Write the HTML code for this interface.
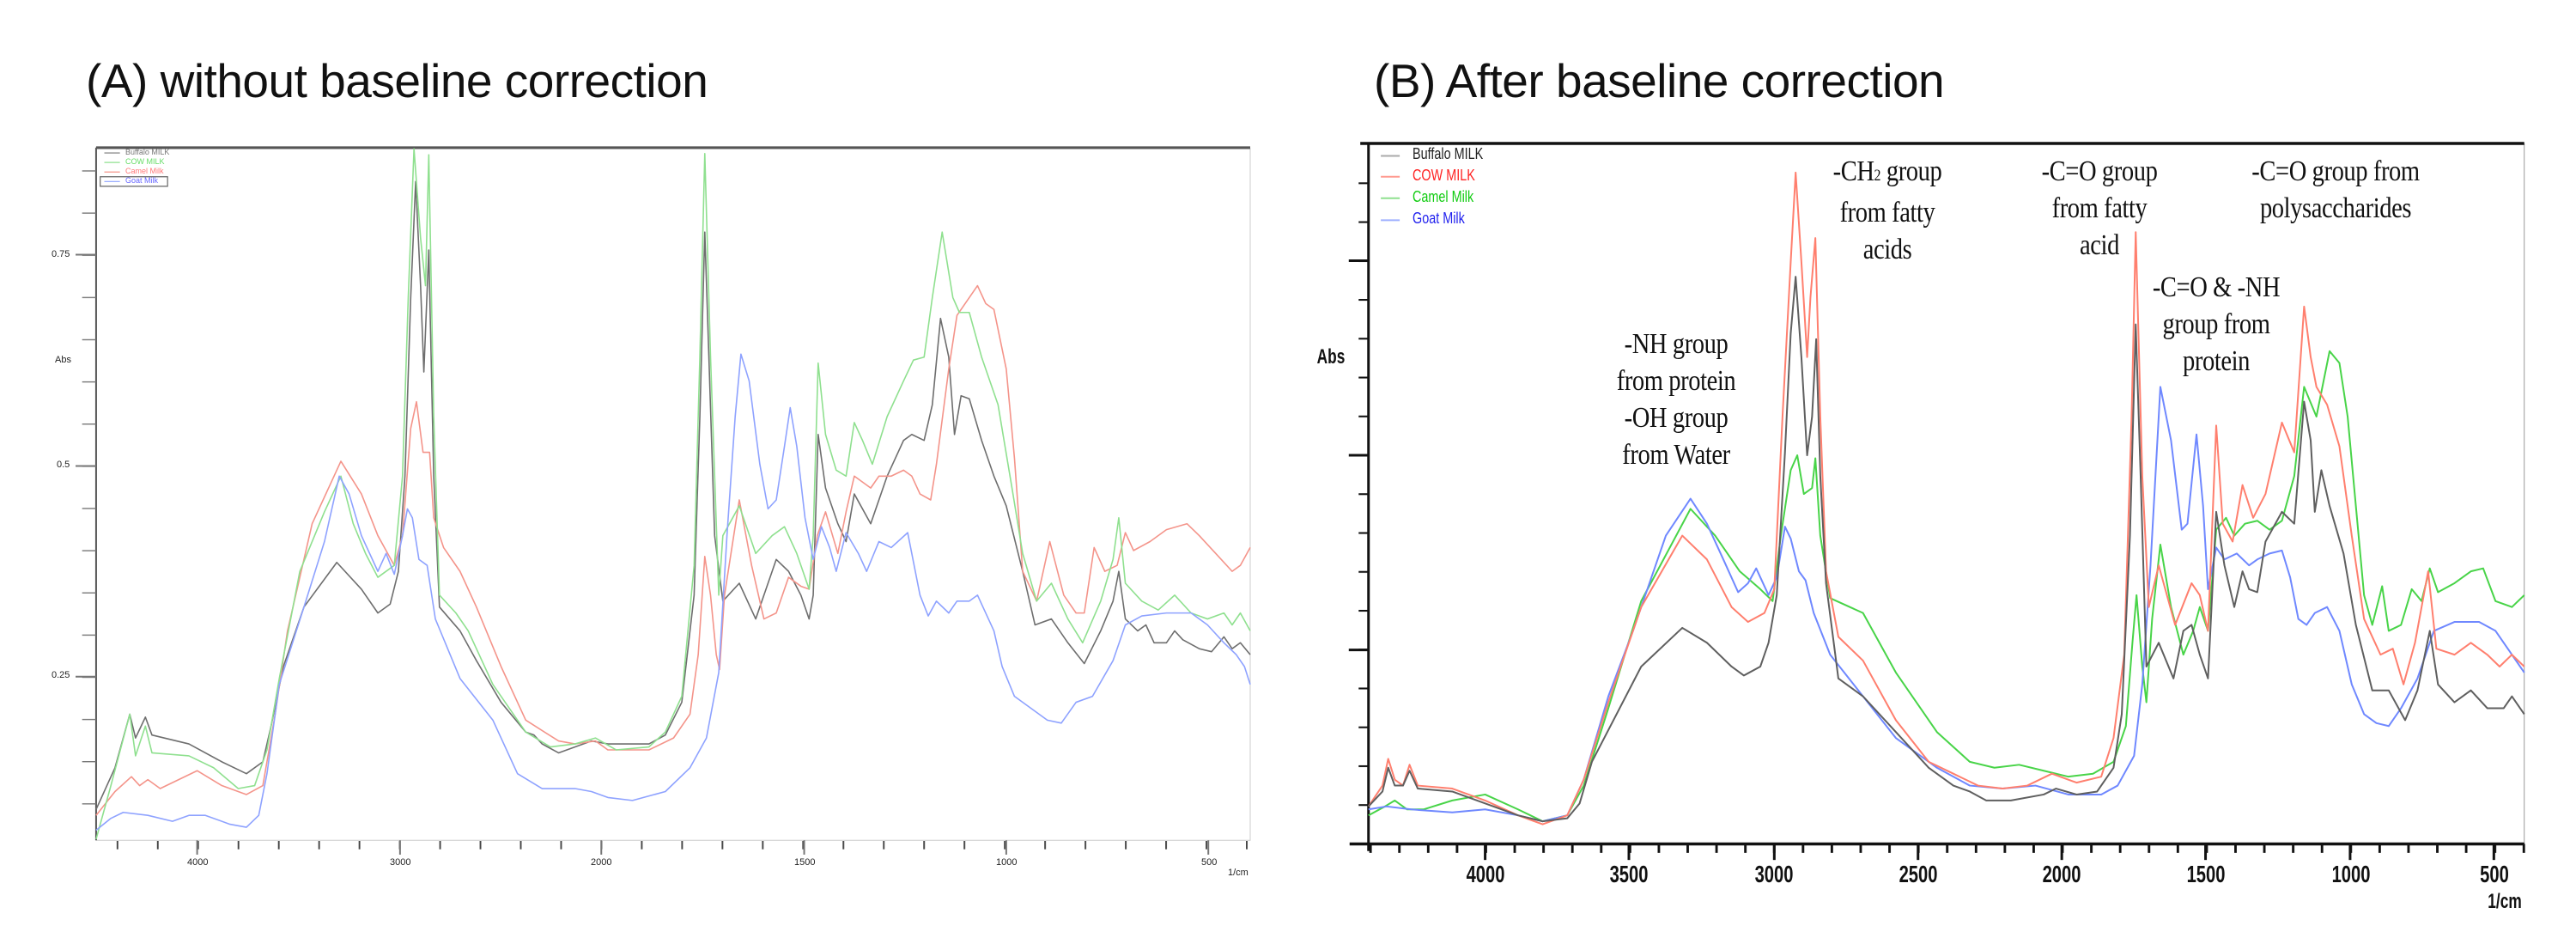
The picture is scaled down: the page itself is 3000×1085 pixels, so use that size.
<!DOCTYPE html>
<html><head><meta charset="utf-8"><style>
html,body{margin:0;padding:0;background:#fff;}
body{width:3000px;height:1085px;position:relative;overflow:hidden;font-family:"Liberation Sans",sans-serif;}
.t{position:absolute;white-space:nowrap;}
.title{font-size:55px;color:#111;top:62px;letter-spacing:-0.5px;}
.al{font-size:11px;color:#222;}
.bl{font-size:28px;font-weight:bold;color:#111;transform:translateX(-50%) scaleX(0.72);}
.ann{font-family:"Liberation Serif",serif;font-size:34px;color:#111;text-align:center;line-height:43px;transform:translateX(-50%) scaleX(0.84);letter-spacing:-0.5px;}
.leg{font-size:18px;transform-origin:0 50%;transform:scaleX(0.8);}
svg{position:absolute;top:0;}
</style></head><body>

<div class="t title" style="left:100px;">(A) without baseline correction</div>
<div class="t title" style="left:1600px;">(B) After baseline correction</div>

<!-- Chart A -->
<svg style="left:0" width="1500" height="1085" viewBox="0 0 1568 1566" preserveAspectRatio="none">
<defs>
<pattern id="axt" patternUnits="userSpaceOnUse" x="142" y="0" width="49.1" height="1566"><rect x="0" y="1413" width="2" height="14" fill="#444"/></pattern>
<pattern id="ayt" patternUnits="userSpaceOnUse" x="0" y="1137" width="1568" height="70.9"><rect x="100" y="0" width="17" height="2" fill="#777"/></pattern>
</defs>
<rect x="117" y="250" width="1405" height="1162" fill="none" stroke="#ccc" stroke-width="1" vector-effect="non-scaling-stroke"/>
<line x1="117" y1="248" x2="1522" y2="248" stroke="#555" stroke-width="3" vector-effect="non-scaling-stroke"/>
<line x1="117" y1="248" x2="117" y2="1412" stroke="#555" stroke-width="2" vector-effect="non-scaling-stroke"/>
<rect x="117" y="1410" width="1405" height="26" fill="url(#axt)"/>
<rect x="96" y="260" width="21" height="1150" fill="url(#ayt)"/>
<g stroke="#777" stroke-width="2" vector-effect="non-scaling-stroke">
<line x1="240" y1="1412" x2="240" y2="1436" vector-effect="non-scaling-stroke"/><line x1="487" y1="1412" x2="487" y2="1436" vector-effect="non-scaling-stroke"/><line x1="732" y1="1412" x2="732" y2="1436" vector-effect="non-scaling-stroke"/><line x1="979" y1="1412" x2="979" y2="1436" vector-effect="non-scaling-stroke"/><line x1="1225" y1="1412" x2="1225" y2="1436" vector-effect="non-scaling-stroke"/><line x1="1471" y1="1412" x2="1471" y2="1436" vector-effect="non-scaling-stroke"/>
<line x1="92" y1="428" x2="117" y2="428" vector-effect="non-scaling-stroke"/><line x1="92" y1="783" x2="117" y2="783" vector-effect="non-scaling-stroke"/><line x1="92" y1="1137" x2="117" y2="1137" vector-effect="non-scaling-stroke"/>
</g>
<g fill="none" stroke-width="1.6" stroke-linejoin="round">
<polyline vector-effect="non-scaling-stroke" stroke="#6e6e6e" points="117,1360 140,1290 158,1200 165,1240 177,1205 185,1235 230,1250 270,1280 300,1300 320,1280 330,1220 345,1120 370,1020 410,945 440,990 460,1030 475,1015 485,960 493,800 500,500 506,305 512,480 516,625 522,420 528,800 535,1020 560,1060 580,1110 610,1180 640,1230 650,1235 660,1250 680,1265 720,1245 740,1250 790,1250 810,1235 830,1180 845,1000 852,700 858,390 863,600 870,900 880,1010 900,980 920,1040 945,940 960,960 975,1000 985,1040 990,1000 996,730 1005,820 1020,880 1030,910 1040,830 1060,880 1080,800 1100,740 1110,730 1125,740 1135,680 1145,535 1155,600 1162,730 1170,665 1180,670 1195,740 1210,800 1225,850 1245,960 1260,1050 1280,1040 1300,1080 1320,1115 1340,1060 1355,1010 1362,960 1370,1040 1385,1060 1395,1050 1405,1080 1420,1080 1430,1060 1440,1075 1460,1090 1475,1095 1490,1070 1500,1090 1510,1080 1522,1100"/>
<polyline vector-effect="non-scaling-stroke" stroke="#f4948a" points="117,1370 140,1330 160,1305 170,1320 180,1310 195,1325 240,1295 270,1320 300,1335 320,1320 335,1200 350,1060 380,880 415,775 440,830 460,900 480,950 490,900 500,720 507,675 515,760 523,760 528,870 540,920 560,960 580,1020 610,1120 640,1210 680,1245 700,1250 725,1245 740,1260 790,1260 820,1240 840,1200 850,1100 858,935 865,1000 872,1100 876,1125 882,1000 900,840 915,950 930,1040 945,1030 960,970 975,985 985,990 995,900 1005,860 1020,930 1030,860 1040,800 1060,820 1070,800 1085,800 1100,790 1110,800 1120,830 1133,840 1140,780 1155,620 1165,530 1180,500 1190,480 1200,510 1210,520 1225,620 1235,770 1245,960 1262,1010 1278,910 1295,1000 1310,1030 1320,1030 1332,920 1345,960 1360,950 1370,895 1380,925 1400,910 1420,890 1445,880 1460,900 1480,930 1500,960 1510,950 1522,920"/>
<polyline vector-effect="non-scaling-stroke" stroke="#8fe08f" points="117,1410 135,1320 158,1200 165,1270 177,1220 185,1265 230,1270 260,1290 290,1325 310,1320 325,1260 340,1140 365,960 395,860 415,800 430,880 445,930 460,970 480,950 490,800 497,500 504,250 512,400 518,480 522,260 528,700 535,1000 555,1030 570,1060 600,1150 640,1230 670,1255 700,1250 725,1240 750,1260 790,1255 810,1230 830,1170 845,950 852,600 858,258 865,600 875,1000 880,900 900,850 920,930 940,900 955,885 970,930 985,990 990,900 996,610 1005,730 1018,790 1030,800 1040,710 1050,740 1062,780 1080,700 1100,640 1112,605 1125,600 1135,500 1147,390 1160,500 1168,525 1180,525 1195,600 1215,680 1232,820 1245,930 1262,1010 1280,980 1300,1040 1318,1080 1340,1010 1355,940 1362,870 1370,980 1390,1010 1410,1025 1430,1000 1450,1030 1470,1040 1490,1030 1500,1050 1510,1030 1522,1060"/>
<polyline vector-effect="non-scaling-stroke" stroke="#8ea2ff" points="117,1395 135,1375 150,1365 180,1370 210,1380 230,1370 250,1370 280,1385 300,1390 315,1370 325,1300 340,1150 370,1020 395,910 413,800 425,830 440,900 460,960 470,930 480,965 490,900 496,855 502,870 510,940 520,950 530,1040 560,1140 600,1210 630,1300 660,1325 700,1325 720,1330 740,1340 770,1345 810,1330 840,1290 860,1240 875,1130 885,900 895,700 902,595 912,640 925,780 935,855 945,840 955,750 962,685 970,750 980,870 990,940 1000,885 1010,920 1018,960 1030,895 1045,930 1055,960 1070,910 1085,920 1105,895 1120,1000 1130,1035 1140,1010 1155,1030 1165,1010 1180,1010 1190,1000 1210,1060 1220,1120 1235,1170 1255,1190 1275,1210 1292,1215 1310,1180 1330,1170 1355,1110 1370,1050 1390,1035 1420,1030 1450,1030 1470,1050 1490,1080 1505,1100 1515,1120 1522,1150"/>
</g>
<g stroke-width="1.2" vector-effect="non-scaling-stroke">
<line x1="127" y1="257" x2="146" y2="257" stroke="#777" vector-effect="non-scaling-stroke"/>
<line x1="127" y1="273" x2="146" y2="273" stroke="#8fe08f" vector-effect="non-scaling-stroke"/>
<line x1="127" y1="289" x2="146" y2="289" stroke="#f4948a" vector-effect="non-scaling-stroke"/>
<line x1="127" y1="305" x2="146" y2="305" stroke="#8ea2ff" vector-effect="non-scaling-stroke"/>
<rect x="122" y="297" width="82" height="16" fill="none" stroke="#666" vector-effect="non-scaling-stroke"/>
</g>
</svg>
<div class="t" style="left:146px;top:172px;font-size:9px;color:#777;line-height:11px;">Buffalo MILK<br><span style="color:#6d6">COW MILK</span><br><span style="color:#f77">Camel Milk</span><br><span style="color:#66f">Goat Milk</span></div>
<div class="t al" style="left:60px;top:290px;">0.75</div>
<div class="t al" style="left:66px;top:535px;">0.5</div>
<div class="t al" style="left:60px;top:780px;">0.25</div>
<div class="t al" style="left:64px;top:413px;">Abs</div>
<div class="t al" style="left:218px;top:998px;">4000</div>
<div class="t al" style="left:454px;top:998px;">3000</div>
<div class="t al" style="left:688px;top:998px;">2000</div>
<div class="t al" style="left:925px;top:998px;">1500</div>
<div class="t al" style="left:1160px;top:998px;">1000</div>
<div class="t al" style="left:1399px;top:998px;">500</div>
<div class="t al" style="left:1430px;top:1010px;">1/cm</div>

<!-- Chart B -->
<svg style="left:1500px" width="1500" height="1085" viewBox="0 0 1568 1566" preserveAspectRatio="none">
<defs>
<pattern id="bxt" patternUnits="userSpaceOnUse" x="99" y="0" width="35.1" height="1566"><rect x="0" y="1418" width="3" height="15" fill="#111"/></pattern>
<pattern id="byt" patternUnits="userSpaceOnUse" x="0" y="1090" width="1568" height="65.3"><rect x="86" y="0" width="14" height="3" fill="#111"/></pattern>
</defs>
<rect x="98" y="242" width="1407" height="1176" fill="none" stroke="#999" stroke-width="1" vector-effect="non-scaling-stroke"/>
<line x1="88" y1="241" x2="1505" y2="241" stroke="#111" stroke-width="3.5" vector-effect="non-scaling-stroke"/>
<line x1="98" y1="241" x2="98" y2="1430" stroke="#111" stroke-width="3" vector-effect="non-scaling-stroke"/>
<line x1="75" y1="1418" x2="1505" y2="1418" stroke="#111" stroke-width="3.5" vector-effect="non-scaling-stroke"/>
<rect x="98" y="1418" width="1410" height="18" fill="url(#bxt)"/>
<rect x="80" y="260" width="18" height="1150" fill="url(#byt)"/>
<g stroke="#111" stroke-width="3">
<line x1="240" y1="1418" x2="240" y2="1445" vector-effect="non-scaling-stroke"/><line x1="415" y1="1418" x2="415" y2="1445" vector-effect="non-scaling-stroke"/><line x1="592" y1="1418" x2="592" y2="1445" vector-effect="non-scaling-stroke"/><line x1="767" y1="1418" x2="767" y2="1445" vector-effect="non-scaling-stroke"/><line x1="942" y1="1418" x2="942" y2="1445" vector-effect="non-scaling-stroke"/><line x1="1117" y1="1418" x2="1117" y2="1445" vector-effect="non-scaling-stroke"/><line x1="1293" y1="1418" x2="1293" y2="1445" vector-effect="non-scaling-stroke"/><line x1="1468" y1="1418" x2="1468" y2="1445" vector-effect="non-scaling-stroke"/>
<line x1="74" y1="438" x2="98" y2="438" vector-effect="non-scaling-stroke"/><line x1="74" y1="765" x2="98" y2="765" vector-effect="non-scaling-stroke"/><line x1="74" y1="1092" x2="98" y2="1092" vector-effect="non-scaling-stroke"/>
</g>
<g fill="none" stroke-width="2" stroke-linejoin="round">
<polyline vector-effect="non-scaling-stroke" stroke="#48d448" points="98,1370 118,1355 130,1345 145,1360 165,1360 200,1345 240,1335 280,1360 310,1380 340,1370 360,1320 390,1190 430,1010 490,855 520,900 550,960 575,990 590,1010 600,900 612,790 620,765 628,830 638,820 642,770 648,900 660,1005 700,1030 740,1130 790,1230 830,1280 860,1290 890,1285 920,1295 950,1305 980,1300 1005,1280 1020,1220 1028,1080 1033,1000 1040,1120 1045,1180 1052,1040 1062,915 1075,1020 1090,1100 1102,1060 1110,1020 1120,1060 1130,890 1142,870 1152,900 1165,880 1180,875 1195,890 1210,875 1225,800 1237,650 1252,700 1268,590 1280,610 1290,700 1300,850 1310,1000 1320,1050 1332,985 1340,1060 1355,1050 1368,990 1380,1010 1390,955 1400,995 1420,980 1440,960 1455,955 1470,1010 1490,1020 1505,1000"/>
<polyline vector-effect="non-scaling-stroke" stroke="#6f88ff" points="98,1360 120,1355 150,1360 200,1365 240,1360 280,1370 310,1380 340,1370 360,1310 390,1170 420,1060 460,900 490,838 510,880 530,940 548,995 560,980 570,955 585,1000 595,970 605,885 612,905 622,960 630,975 640,1030 660,1100 700,1170 740,1240 790,1290 830,1320 870,1325 910,1320 950,1335 990,1335 1010,1320 1030,1270 1040,1150 1050,950 1062,650 1075,740 1088,890 1095,880 1106,730 1114,850 1120,990 1130,920 1140,940 1155,930 1170,950 1180,940 1195,930 1210,925 1220,970 1230,1040 1240,1050 1250,1030 1265,1020 1280,1060 1295,1150 1310,1200 1325,1215 1340,1220 1355,1190 1375,1140 1395,1060 1420,1045 1450,1045 1470,1060 1490,1100 1505,1130"/>
<polyline vector-effect="non-scaling-stroke" stroke="#ff7f6e" points="98,1355 115,1320 122,1275 130,1310 140,1320 148,1285 158,1320 200,1325 240,1345 280,1370 310,1385 340,1370 360,1310 390,1180 430,1020 480,900 510,940 540,1020 560,1045 580,1030 592,990 602,700 612,440 618,290 625,440 632,600 636,500 642,400 648,700 655,960 670,1070 700,1110 740,1210 780,1280 810,1300 840,1320 870,1325 900,1320 930,1300 960,1315 990,1305 1005,1240 1018,1100 1027,700 1032,390 1040,800 1048,1020 1060,950 1080,1050 1100,980 1110,1000 1120,1060 1130,715 1138,880 1150,910 1162,815 1175,870 1190,830 1210,710 1225,760 1237,515 1245,600 1252,650 1265,680 1280,750 1295,900 1310,1040 1330,1100 1345,1090 1358,1150 1372,1080 1388,960 1398,1090 1420,1100 1440,1080 1460,1100 1475,1120 1490,1100 1505,1120"/>
<polyline vector-effect="non-scaling-stroke" stroke="#5f5f5f" points="98,1355 115,1330 122,1290 130,1320 140,1320 148,1295 158,1325 200,1330 240,1350 280,1370 310,1380 340,1375 355,1350 370,1280 400,1200 430,1120 480,1055 510,1080 540,1120 555,1135 575,1120 585,1080 595,1000 605,760 612,560 618,465 625,600 632,765 638,700 643,570 648,800 655,980 670,1140 700,1170 740,1230 780,1290 810,1320 830,1330 850,1345 880,1345 920,1335 935,1325 960,1335 985,1330 1005,1290 1015,1200 1025,900 1032,545 1038,800 1045,1120 1060,1080 1078,1140 1090,1060 1100,1050 1110,1100 1120,1140 1130,860 1140,950 1152,1020 1162,960 1170,990 1180,995 1190,910 1210,860 1225,880 1237,675 1245,740 1250,860 1258,790 1268,850 1285,930 1300,1050 1320,1160 1340,1160 1360,1210 1375,1160 1390,1060 1400,1150 1420,1180 1440,1160 1460,1190 1480,1190 1490,1170 1505,1200"/>
</g>
<g stroke-width="2">
<line x1="113" y1="262" x2="136" y2="262" stroke="#aaa" vector-effect="non-scaling-stroke"/>
<line x1="113" y1="297" x2="136" y2="297" stroke="#ff9a90" vector-effect="non-scaling-stroke"/>
<line x1="113" y1="333" x2="136" y2="333" stroke="#8fe08f" vector-effect="non-scaling-stroke"/>
<line x1="113" y1="370" x2="136" y2="370" stroke="#9fb0ff" vector-effect="non-scaling-stroke"/>
</g>
</svg>
<div class="t leg" style="left:1645px;top:169px;color:#222;">Buffalo MILK</div>
<div class="t leg" style="left:1645px;top:194px;color:#f22;">COW MILK</div>
<div class="t leg" style="left:1645px;top:219px;color:#1c1;">Camel Milk</div>
<div class="t leg" style="left:1645px;top:244px;color:#22e;">Goat Milk</div>

<div class="t bl" style="left:1550px;top:402px;font-size:24px;">Abs</div>
<div class="t bl" style="left:1730px;top:1002px;">4000</div>
<div class="t bl" style="left:1897px;top:1002px;">3500</div>
<div class="t bl" style="left:2066px;top:1002px;">3000</div>
<div class="t bl" style="left:2234px;top:1002px;">2500</div>
<div class="t bl" style="left:2401px;top:1002px;">2000</div>
<div class="t bl" style="left:2569px;top:1002px;">1500</div>
<div class="t bl" style="left:2738px;top:1002px;">1000</div>
<div class="t bl" style="left:2905px;top:1002px;">500</div>
<div class="t bl" style="left:2917px;top:1036px;font-size:24px;">1/cm</div>

<div class="t ann" style="left:1952px;top:379px;">-NH group<br>from protein<br>-OH group<br>from Water</div>
<div class="t ann" style="left:2198px;top:178px;">-CH<span style="font-size:19px">2</span> group<br>from fatty<br>acids</div>
<div class="t ann" style="left:2445px;top:178px;">-C=O group<br>from fatty<br>acid</div>
<div class="t ann" style="left:2581px;top:313px;">-C=O &amp; -NH<br>group from<br>protein</div>
<div class="t ann" style="left:2720px;top:178px;">-C=O group from<br>polysaccharides</div>
</body></html>
